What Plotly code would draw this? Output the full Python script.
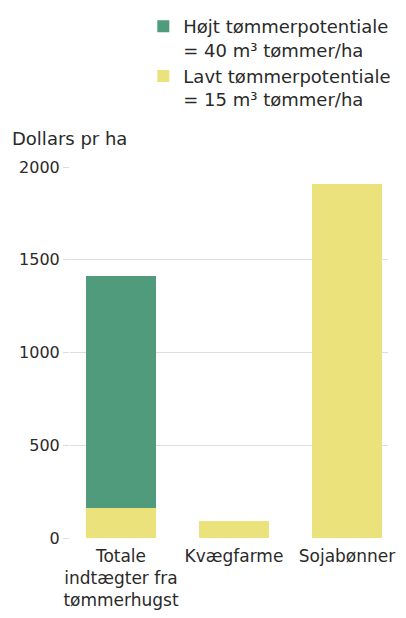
import plotly.graph_objects as go

categories = ["Totale<br>indtægter fra<br>tømmerhugst", "Kvægfarme", "Sojabønner"]
low_values = [160, 90, 1910]
high_values = [1250, None, None]
y_ticks = [0, 500, 1000, 1500, 2000]

green = "#4f9b7c"
yellow = "#ebe27c"
font_family = "DejaVu Sans, sans-serif"
text_color = "#2a2a2a"

fig = go.Figure()
fig.add_trace(go.Bar(
    x=categories, y=low_values,
    name="Lavt tømmerpotentiale<br>= 15 m³ tømmer/ha",
    marker=dict(color=yellow, line=dict(width=0)),
    width=0.62,
))
fig.add_trace(go.Bar(
    x=categories, y=high_values,
    name="Højt tømmerpotentiale<br>= 40 m³ tømmer/ha",
    marker=dict(color=green, line=dict(width=0)),
    width=0.62,
))

fig.update_layout(
    width=398, height=602,
    barmode="stack",
    plot_bgcolor="white", paper_bgcolor="white",
    margin=dict(l=62, r=18, t=159, b=72, autoexpand=False),
    font=dict(family=font_family, color=text_color, size=15),
    legend=dict(
        xref="container", yref="container",
        x=0.34, xanchor="left", y=1.0, yanchor="top",
        traceorder="reversed", valign="top",
        font=dict(size=18, color=text_color),
        itemsizing="constant", tracegroupgap=0,
        bgcolor="rgba(0,0,0,0)",
    ),
    showlegend=True,
    annotations=[dict(
        text="Dollars pr ha", xref="paper", yref="paper",
        x=-0.189, y=1.078, xanchor="left", yanchor="middle",
        showarrow=False, font=dict(size=18, color=text_color),
    )],
)
fig.update_xaxes(
    range=[-0.451, 2.363], showgrid=False, showline=False, zeroline=False,
    tickfont=dict(size=17, color=text_color), ticks="", automargin=False,
    tickangle=0, ticklabelstandoff=6,
)
fig.update_yaxes(
    range=[0, 2000], tickvals=y_ticks, ticktext=[str(v) for v in y_ticks],
    showgrid=True, gridcolor="#dddddd", gridwidth=1, zeroline=False,
    ticks="outside", ticklen=6, tickcolor="#dddddd",
    tickfont=dict(size=16, color=text_color), showline=False, automargin=False,
)

fig.write_html("out.html")
